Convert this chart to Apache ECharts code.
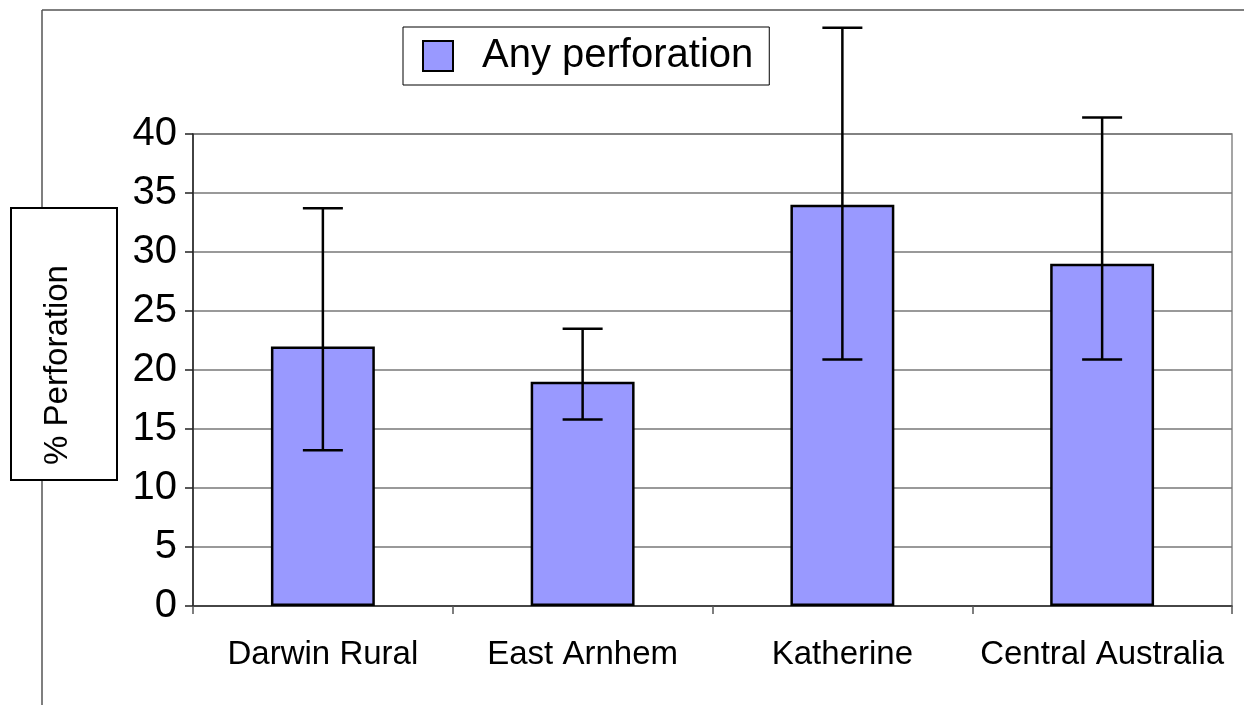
<!DOCTYPE html>
<html>
<head>
<meta charset="utf-8">
<script src="https://cdn.jsdelivr.net/npm/echarts@6/dist/echarts.min.js"></script>
<style>
html,body{margin:0;padding:0;background:#fff;}
#chart{width:1244px;height:705px;}
</style>
</head>
<body>
<div id="chart"></div>
<script>
const categories = ['Darwin Rural', 'East Arnhem', 'Katherine', 'Central Australia'];
const perforation = [22, 19, 34, 29];
const errLow = [13.2, 15.8, 20.9, 20.9];
const errHigh = [33.7, 23.5, 49.0, 41.4];
const yTicks = [0, 5, 10, 15, 20, 25, 30, 35, 40];
const seriesName = 'Any perforation';
const yTitle = '% Perforation';

const FONT = '"Liberation Sans", Arial, sans-serif';
const chart = echarts.init(document.getElementById('chart'), null, {renderer: 'canvas'});

const errData = categories.map((c, i) => [i, errLow[i], errHigh[i]]);

chart.setOption({
  animation: false,
  backgroundColor: '#fff',
  textStyle: {fontFamily: FONT},
  grid: {left: 193, right: 12, top: 134, bottom: 99, show: true, borderColor: '#888', borderWidth: 1.5, backgroundColor: 'transparent'},
  legend: {
    data: [seriesName],
    left: 403, top: 27,
    icon: 'rect',
    itemWidth: 30, itemHeight: 30,
    padding: [9, 16, 9, 19],
    borderColor: '#000', borderWidth: 1,
    backgroundColor: '#fff',
    textStyle: {fontSize: 40, color: '#000', fontFamily: FONT, padding: [0, 0, 0, 24]}
  },
  xAxis: {
    type: 'category',
    data: categories,
    boundaryGap: true,
    axisLine: {lineStyle: {color: '#333', width: 1.5}},
    axisTick: {show: true, length: 8, lineStyle: {color: '#555', width: 1.5}},
    axisLabel: {interval: 0, fontSize: 33, color: '#000', margin: 32, fontFamily: FONT},
    splitLine: {show: false}
  },
  yAxis: {
    type: 'value',
    min: 0, max: 40, interval: 5,
    axisLine: {show: true, lineStyle: {color: '#222', width: 1.5}},
    axisTick: {show: true, length: 8, lineStyle: {color: '#222', width: 1.5}},
    axisLabel: {fontSize: 40, color: '#000', margin: 16, fontFamily: FONT,
      formatter: v => yTicks.includes(v) ? String(v) : ''},
    splitLine: {show: true, lineStyle: {color: '#777', width: 1.5}}
  },
  series: [
    {
      name: seriesName,
      type: 'bar',
      data: perforation,
      barWidth: '40%',
      itemStyle: {color: '#9999FF', borderColor: '#000', borderWidth: 2.5},
      z: 2
    },
    {
      name: 'error',
      type: 'custom',
      data: errData,
      clip: false,
      z: 5,
      encode: {x: 0, y: [1, 2]},
      renderItem: function (params, api) {
        const x = api.value(0), lo = api.value(1), hi = api.value(2);
        const pHi = api.coord([x, hi]);
        const pLo = api.coord([x, lo]);
        const half = 20;
        const st = {stroke: '#000', lineWidth: 2.5};
        return {
          type: 'group',
          children: [
            {type: 'line', shape: {x1: pHi[0], y1: pHi[1], x2: pLo[0], y2: pLo[1]}, style: st},
            {type: 'line', shape: {x1: pHi[0] - half, y1: pHi[1], x2: pHi[0] + half, y2: pHi[1]}, style: st},
            {type: 'line', shape: {x1: pLo[0] - half, y1: pLo[1], x2: pLo[0] + half, y2: pLo[1]}, style: st}
          ]
        };
      }
    }
  ],
  graphic: [
    {type: 'line', shape: {x1: 42, y1: 10, x2: 42, y2: 705}, style: {stroke: '#555', lineWidth: 1.5}, z: 0},
    {type: 'line', shape: {x1: 42, y1: 10, x2: 1244, y2: 10}, style: {stroke: '#555', lineWidth: 1.5}, z: 0},
    {type: 'rect', shape: {x: 11, y: 208, width: 106, height: 272}, style: {fill: '#fff', stroke: '#000', lineWidth: 2}, z: 10},
    {type: 'text', x: 58, y: 365, rotation: Math.PI / 2,
      style: {text: yTitle, fontSize: 33, fontFamily: FONT, fill: '#000', align: 'center', verticalAlign: 'middle'}, z: 11}
  ]
});
</script>
</body>
</html>
